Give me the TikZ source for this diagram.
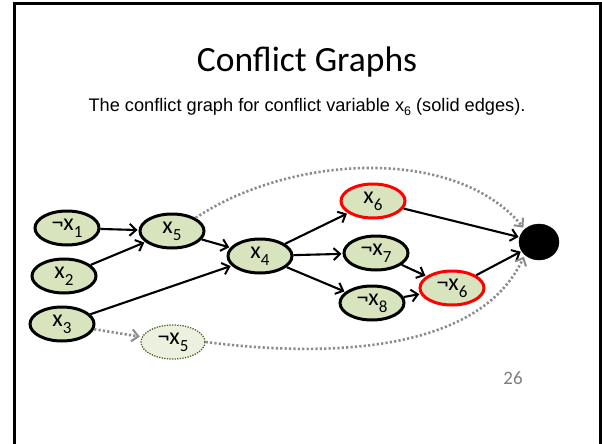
\documentclass[tikz,border=0pt]{standalone}
\usepackage{fontspec}
\setmainfont{Carlito}
\newfontfamily\arialf{Liberation Sans}
\usetikzlibrary{arrows.meta,shapes.geometric}
\definecolor{nodegreen}{HTML}{D7E4BD}
\definecolor{lightgreen}{HTML}{EBF1DE}
\definecolor{dotgreen}{HTML}{4F6228}
\definecolor{dotgray}{HTML}{8C8C8C}
\definecolor{numgray}{HTML}{7F7F7F}
\newcommand{\lsub}[1]{\raisebox{-0.6ex}{\fontsize{17}{17}\selectfont #1}}
\begin{document}
\begin{tikzpicture}[x=1pt,y=-1pt,
  var/.style={ellipse, draw=black, line width=3pt, fill=nodegreen,
    minimum width=64pt, minimum height=34pt, inner sep=0pt,
    font=\fontsize{24}{24}\selectfont},
  confl/.style={var, draw=red},
  ghost/.style={var, fill=lightgreen, draw=dotgreen, line width=1.3pt,
    dash pattern=on 1.3pt off 1.3pt},
  sink/.style={ellipse, fill=black, draw=black, minimum width=40pt,
    minimum height=36pt, inner sep=0pt},
  imp/.style={-{Straight Barb[length=6.5pt,width=12pt,line width=2pt]},
    line width=2.1pt, shorten >=1pt},
  dimp/.style={-{Straight Barb[length=6.5pt,width=12pt,line width=2pt]},
    line width=2.6pt, draw=dotgray, dash pattern=on 2.2pt off 2.2pt, shorten >=2pt}
]
\useasboundingbox (0,0) rectangle (602,444);
\fill[white] (0,0) rectangle (602,444);
\draw[line width=3pt] (14,450) -- (14,4) -- (600,4) -- (600,450);

\node (title) at (307,62) {\fontsize{35.5}{36}\selectfont Conflict Graphs};
\node (sub) at (307,107) {\arialf\fontsize{18.2}{18}\selectfont The conflict graph for conflict variable x\raisebox{-0.4ex}{\arialf\fontsize{12.5}{12}\selectfont 6} (solid edges).};

\node[var] (nx1) at (67,228) {¬x\lsub{1}};
\node[var] (x2) at (64,276) {x\lsub{2}};
\node[var] (x3) at (62,324) {x\lsub{3}};
\node[var] (x5) at (172,231) {x\lsub{5}};
\node[ghost] (nx5) at (173,342) {¬x\lsub{5}};
\node[var] (x4) at (260,256) {x\lsub{4}};
\node[confl] (x6) at (373,201) {x\lsub{6}};
\node[var] (nx7) at (376,253) {¬x\lsub{7}};
\node[var] (nx8) at (372,303) {¬x\lsub{8}};
\node[confl] (nx6) at (452,288) {¬x\lsub{6}};
\node[sink] (k) at (539,242) {};

\node[text=numgray, font=\fontsize{19}{19}\selectfont] (pg) at (513,378) {26};

\draw[imp] (nx1) -- (x5);
\draw[imp] (x2) -- (x5);
\draw[imp] (x5) -- (x4);
\draw[imp] (x3) -- (x4);
\draw[imp] (x4) -- (x6);
\draw[imp] (x4) -- (nx7);
\draw[imp] (x4) -- (nx8);
\draw[imp] (x6) -- (k);
\draw[imp] (nx7) -- (nx6);
\draw[imp] (nx8) -- (nx6);
\draw[imp] (nx6) -- (k);

\draw[dimp] (x3) -- (nx5);
\draw[dimp] (x5.north east) .. controls (290,155) and (455,145) .. (k.north west);
\draw[dimp] (nx5.east) .. controls (330,358) and (480,352) .. (k.south west);
\end{tikzpicture}
\end{document}
